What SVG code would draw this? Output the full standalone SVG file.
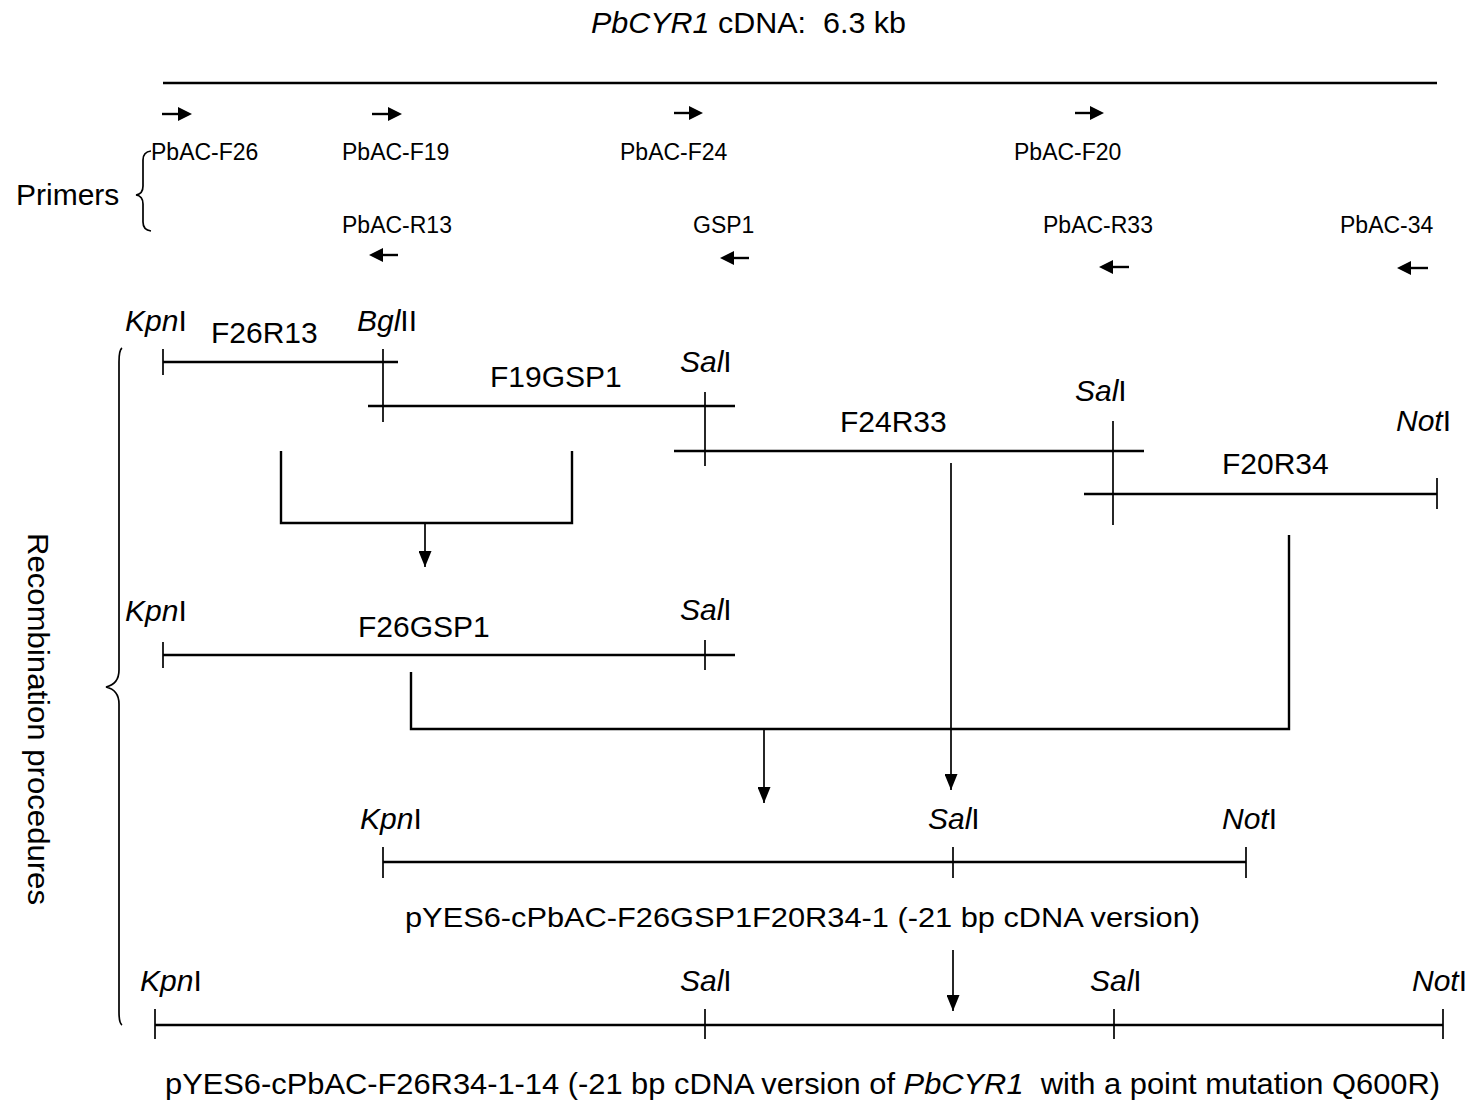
<svg xmlns="http://www.w3.org/2000/svg" width="1473" height="1105" viewBox="0 0 1473 1105">
<style>
text{font-family:"Liberation Sans",Arial,sans-serif;fill:#000}
.t{font-size:30px}
.p{font-size:23px}
.i{font-style:italic}
.ln{stroke:#000;stroke-width:2.4;fill:none}
.th{stroke:#000;stroke-width:1.7;fill:none}
.ah{fill:#000}
</style>
<defs>
<marker id="down" markerWidth="13" markerHeight="16" refX="6.5" refY="16" orient="0" markerUnits="userSpaceOnUse" viewBox="0 0 13 16">
<path d="M0,0 L13,0 L6.5,16 Z" fill="#000"/>
</marker>
</defs>
<rect width="1473" height="1105" fill="#fff"/>

<g id="title">
<text x="591" y="33" style="font-size:30px" xml:space="preserve" textLength="315" lengthAdjust="spacingAndGlyphs"><tspan class="i">PbCYR1</tspan> cDNA:  6.3 kb</text>
</g>

<g id="cdna">
<line class="ln" x1="163" y1="83" x2="1437" y2="83"/>
</g>

<g id="primers">
<text x="16" y="205" style="font-size:30px">Primers</text>
<path class="th" d="M151,151 Q143,152 143,160 L143,186 Q143,194 136,195 Q143,196 143,204 L143,222 Q143,230 151,231"/>
<g id="p-F26"><line class="ln" x1="162" y1="114" x2="180" y2="114"/><polygon class="ah" points="178,107 192,114 178,121"/><text class="p" x="151" y="160">PbAC-F26</text></g>
<g id="p-F19"><line class="ln" x1="372" y1="114" x2="390" y2="114"/><polygon class="ah" points="388,107 402,114 388,121"/><text class="p" x="342" y="160">PbAC-F19</text></g>
<g id="p-F24"><line class="ln" x1="674" y1="113" x2="691" y2="113"/><polygon class="ah" points="689,106 703,113 689,120"/><text class="p" x="620" y="160">PbAC-F24</text></g>
<g id="p-F20"><line class="ln" x1="1075" y1="113" x2="1092" y2="113"/><polygon class="ah" points="1090,106 1104,113 1090,120"/><text class="p" x="1014" y="160">PbAC-F20</text></g>
<g id="p-R13"><line class="ln" x1="381" y1="255" x2="398" y2="255"/><polygon class="ah" points="383,248 369,255 383,262"/><text class="p" x="342" y="233">PbAC-R13</text></g>
<g id="p-GSP1"><line class="ln" x1="732" y1="258" x2="749" y2="258"/><polygon class="ah" points="734,251 720,258 734,265"/><text class="p" x="693" y="233">GSP1</text></g>
<g id="p-R33"><line class="ln" x1="1111" y1="267" x2="1129" y2="267"/><polygon class="ah" points="1113,260 1099,267 1113,274"/><text class="p" x="1043" y="233">PbAC-R33</text></g>
<g id="p-34"><line class="ln" x1="1409" y1="268" x2="1428" y2="268"/><polygon class="ah" points="1411,261 1397,268 1411,275"/><text class="p" x="1340" y="233">PbAC-34</text></g>
</g>

<g id="recomb-label">
<text transform="translate(28,719) rotate(90)" text-anchor="middle" style="font-size:30px" textLength="372" lengthAdjust="spacingAndGlyphs">Recombination procedures</text>
<path class="th" d="M122,348 Q119,350 119,362 L119,670 Q119,684 106,687 Q119,690 119,704 L119,1012 Q119,1023 122,1025"/>
</g>

<g id="F26R13">
<text class="t" x="125" y="331"><tspan class="i">Kpn</tspan>I</text>
<text class="t" x="211" y="343">F26R13</text>
<text class="t" x="357" y="331"><tspan class="i">Bgl</tspan>II</text>
<line class="ln" x1="163" y1="362" x2="398" y2="362"/>
<line class="th" x1="163" y1="349" x2="163" y2="375"/>
<line class="th" x1="383" y1="349" x2="383" y2="422"/>
</g>

<g id="F19GSP1">
<text class="t" x="490" y="387">F19GSP1</text>
<text class="t" x="680" y="372"><tspan class="i">Sal</tspan>I</text>
<line class="ln" x1="368" y1="406" x2="735" y2="406"/>
<line class="th" x1="705" y1="392" x2="705" y2="466"/>
</g>

<g id="F24R33">
<text class="t" x="840" y="432">F24R33</text>
<text class="t" x="1075" y="401"><tspan class="i">Sal</tspan>I</text>
<line class="ln" x1="674" y1="451" x2="1144" y2="451"/>
<line class="th" x1="1113" y1="421" x2="1113" y2="525"/>
</g>

<g id="F20R34">
<text class="t" x="1222" y="474">F20R34</text>
<text class="t" x="1396" y="431"><tspan class="i">Not</tspan>I</text>
<line class="ln" x1="1084" y1="494" x2="1437" y2="494"/>
<line class="th" x1="1437" y1="478" x2="1437" y2="509"/>
</g>

<g id="F26GSP1">
<text class="t" x="125" y="621"><tspan class="i">Kpn</tspan>I</text>
<text class="t" x="358" y="637">F26GSP1</text>
<text class="t" x="680" y="620"><tspan class="i">Sal</tspan>I</text>
<line class="ln" x1="163" y1="655" x2="735" y2="655"/>
<line class="th" x1="163" y1="642" x2="163" y2="668"/>
<line class="th" x1="705" y1="640" x2="705" y2="670"/>
</g>

<g id="pYES6-F26GSP1F20R34-1">
<text class="t" x="360" y="829"><tspan class="i">Kpn</tspan>I</text>
<text class="t" x="928" y="829"><tspan class="i">Sal</tspan>I</text>
<text class="t" x="1222" y="829"><tspan class="i">Not</tspan>I</text>
<line class="ln" x1="383" y1="862" x2="1246" y2="862"/>
<line class="th" x1="383" y1="847" x2="383" y2="878"/>
<line class="th" x1="953" y1="847" x2="953" y2="878"/>
<line class="th" x1="1246" y1="847" x2="1246" y2="878"/>
<text x="405" y="927" style="font-size:28px" textLength="795" lengthAdjust="spacingAndGlyphs">pYES6-cPbAC-F26GSP1F20R34-1 (-21 bp cDNA version)</text>
</g>

<g id="pYES6-F26R34-1-14">
<text class="t" x="140" y="991"><tspan class="i">Kpn</tspan>I</text>
<text class="t" x="680" y="991"><tspan class="i">Sal</tspan>I</text>
<text class="t" x="1090" y="991"><tspan class="i">Sal</tspan>I</text>
<text class="t" x="1412" y="991"><tspan class="i">Not</tspan>I</text>
<line class="ln" x1="155" y1="1025" x2="1443" y2="1025"/>
<line class="th" x1="155" y1="1009" x2="155" y2="1039"/>
<line class="th" x1="705" y1="1009" x2="705" y2="1039"/>
<line class="th" x1="1114" y1="1009" x2="1114" y2="1039"/>
<line class="th" x1="1443" y1="1009" x2="1443" y2="1039"/>
<text x="165" y="1094" style="font-size:29px" xml:space="preserve" textLength="1275" lengthAdjust="spacingAndGlyphs">pYES6-cPbAC-F26R34-1-14 (-21 bp cDNA version of <tspan class="i">PbCYR1</tspan>  with a point mutation Q600R)</text>
</g>

<g id="connectors">
<path class="ln" d="M281,451 L281,523 L572,523 L572,451"/>
<line class="th" x1="425" y1="523" x2="425" y2="567" marker-end="url(#down)"/>
<line class="th" x1="951" y1="463" x2="951" y2="790" marker-end="url(#down)"/>
<path class="ln" d="M411,672 L411,729 L1289,729 L1289,535"/>
<line class="th" x1="764" y1="729" x2="764" y2="803" marker-end="url(#down)"/>
<line class="th" x1="953" y1="950" x2="953" y2="1011" marker-end="url(#down)"/>
</g>
</svg>
